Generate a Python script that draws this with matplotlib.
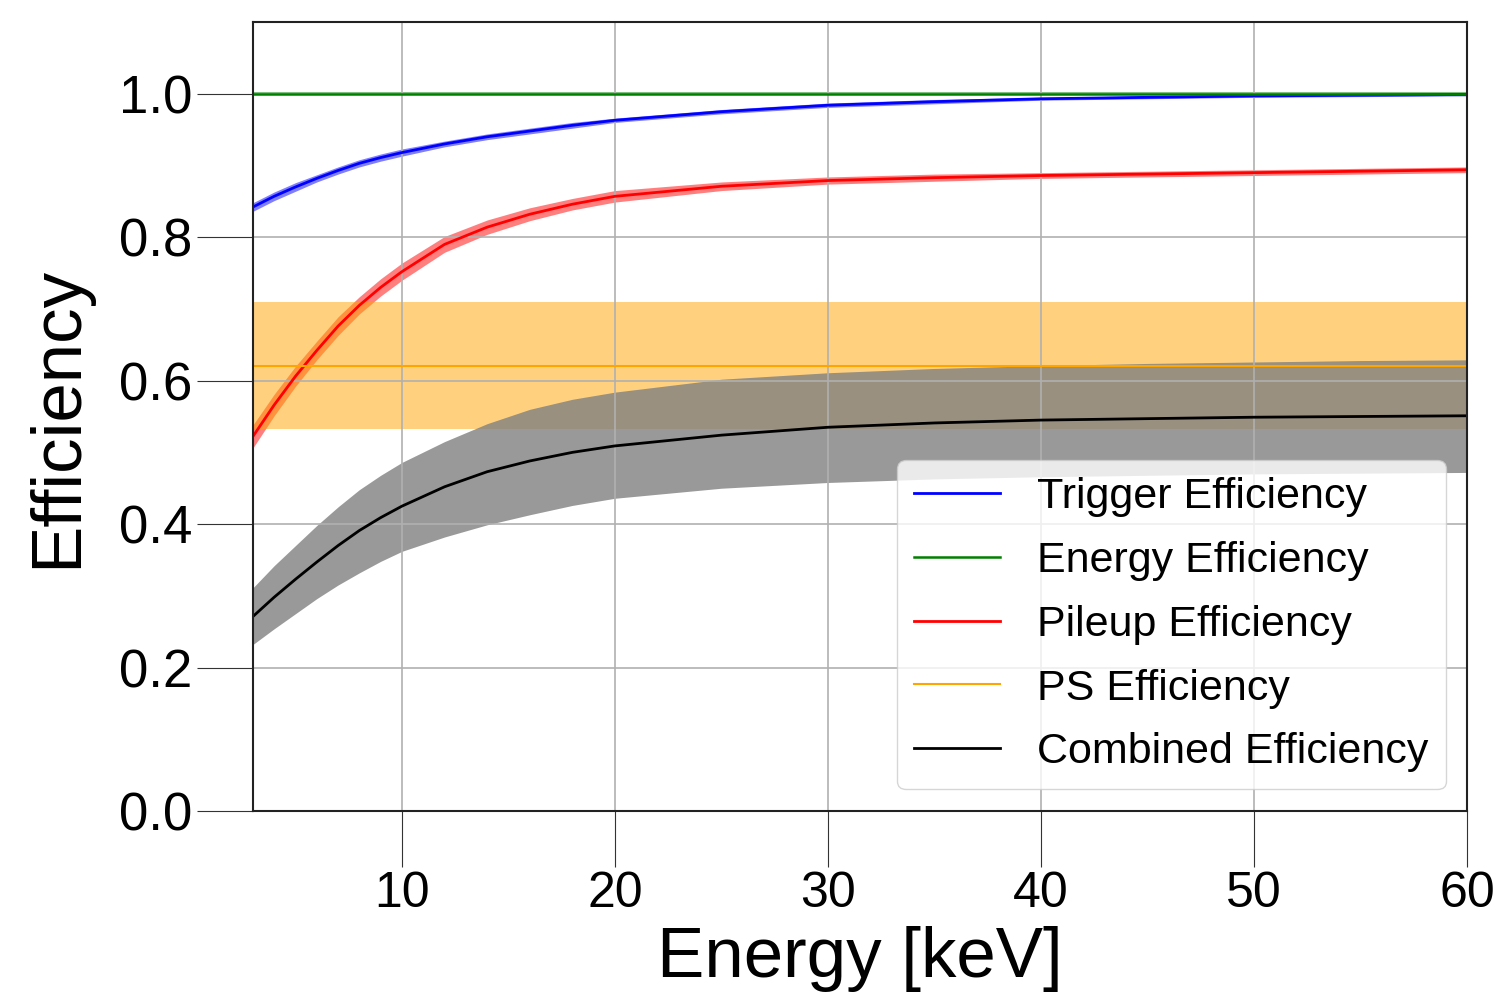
import matplotlib as mpl
mpl.use('Agg')
import matplotlib.pyplot as plt
import numpy as np

plt.rcParams['font.family'] = ['Liberation Sans', 'DejaVu Sans']

energy = [3, 4, 5, 6, 7, 8, 9, 10, 12, 14, 16, 18, 20, 25, 30, 35, 40, 45, 50, 55, 60]

trigger_eff = [0.842, 0.857, 0.870, 0.882, 0.893, 0.903, 0.911, 0.918, 0.930, 0.940, 0.948,
               0.956, 0.963, 0.975, 0.984, 0.989, 0.993, 0.995, 0.997, 0.998, 0.999]
trigger_err = [0.006, 0.006, 0.006, 0.005, 0.005, 0.005, 0.005, 0.005, 0.004, 0.004, 0.004,
               0.004, 0.003, 0.003, 0.003, 0.003, 0.002, 0.002, 0.002, 0.002, 0.002]

energy_eff = 1.0
energy_err = 0.002

pileup_eff = [0.522, 0.566, 0.606, 0.642, 0.676, 0.705, 0.730, 0.752, 0.790, 0.814, 0.832,
              0.846, 0.857, 0.871, 0.879, 0.883, 0.886, 0.888, 0.890, 0.892, 0.894]
pileup_err = [0.016, 0.015, 0.014, 0.013, 0.013, 0.012, 0.012, 0.012, 0.011, 0.010, 0.009,
              0.008, 0.008, 0.006, 0.005, 0.005, 0.004, 0.004, 0.004, 0.004, 0.004]

ps_eff = 0.62
ps_lo = 0.532
ps_hi = 0.709

combined_eff = [0.271, 0.298, 0.323, 0.347, 0.370, 0.391, 0.409, 0.425, 0.452, 0.473, 0.488,
                0.500, 0.509, 0.524, 0.535, 0.541, 0.545, 0.547, 0.549, 0.550, 0.551]
combined_hi = [0.311, 0.342, 0.370, 0.398, 0.424, 0.448, 0.468, 0.486, 0.515, 0.540, 0.560,
               0.574, 0.584, 0.602, 0.611, 0.617, 0.621, 0.624, 0.626, 0.628, 0.629]
combined_lo = [0.232, 0.254, 0.275, 0.296, 0.315, 0.332, 0.348, 0.362, 0.382, 0.399, 0.413,
               0.426, 0.436, 0.450, 0.458, 0.463, 0.466, 0.468, 0.470, 0.471, 0.472]

x = np.array(energy)
trig = np.array(trigger_eff)
trig_e = np.array(trigger_err)
pile = np.array(pileup_eff)
pile_e = np.array(pileup_err)

fig = plt.figure(figsize=(15.05, 9.97), dpi=100)
ax = fig.add_axes([0.168, 0.1866, 0.8068, 0.7913])

ax.plot(x, trig, color='blue', lw=2, label='Trigger Efficiency')
ax.fill_between(x, trig - trig_e, trig + trig_e, color='blue', alpha=0.5, lw=0)

ax.plot(x, np.full_like(trig, energy_eff), color='green', lw=1.8, label='Energy Efficiency')
ax.fill_between(x, energy_eff - energy_err, energy_eff + energy_err, color='green', alpha=0.5, lw=0)

ax.plot(x, pile, color='red', lw=2, label='Pileup Efficiency')
ax.fill_between(x, pile - pile_e, pile + pile_e, color='red', alpha=0.5, lw=0)

ax.plot(x, np.full_like(trig, ps_eff), color='orange', lw=1.5, label='PS Efficiency')
ax.fill_between(x, ps_lo, ps_hi, color='orange', alpha=0.5, lw=0)

ax.plot(x, combined_eff, color='k', lw=2, label='Combined Efficiency')
ax.fill_between(x, combined_lo, combined_hi, color='gray', alpha=0.8, lw=0)

ax.set_xlim(3, 60)
ax.set_ylim(0, 1.1)
ax.set_xticks([10, 20, 30, 40, 50, 60])
ax.set_yticks([0.0, 0.2, 0.4, 0.6, 0.8, 1.0])
ax.grid(True, color='#b0b0b0', lw=1.2)

ax.tick_params(axis='both', length=40, width=0.8, color='#333333', pad=3.5)
ax.tick_params(axis='y', labelsize=38)
ax.tick_params(axis='x', labelsize=36)
for sp in ax.spines.values():
    sp.set_linewidth(1.5)
    sp.set_color('#222222')

ax.set_xlabel('Energy [keV]', fontsize=51, labelpad=6)
ax.set_ylabel('Efficiency', fontsize=51, labelpad=20)

ax.legend(loc='lower right', fontsize=31, labelspacing=0.55, handlelength=2.0,
          handletextpad=0.85)

fig.savefig('out.png', dpi=100)
